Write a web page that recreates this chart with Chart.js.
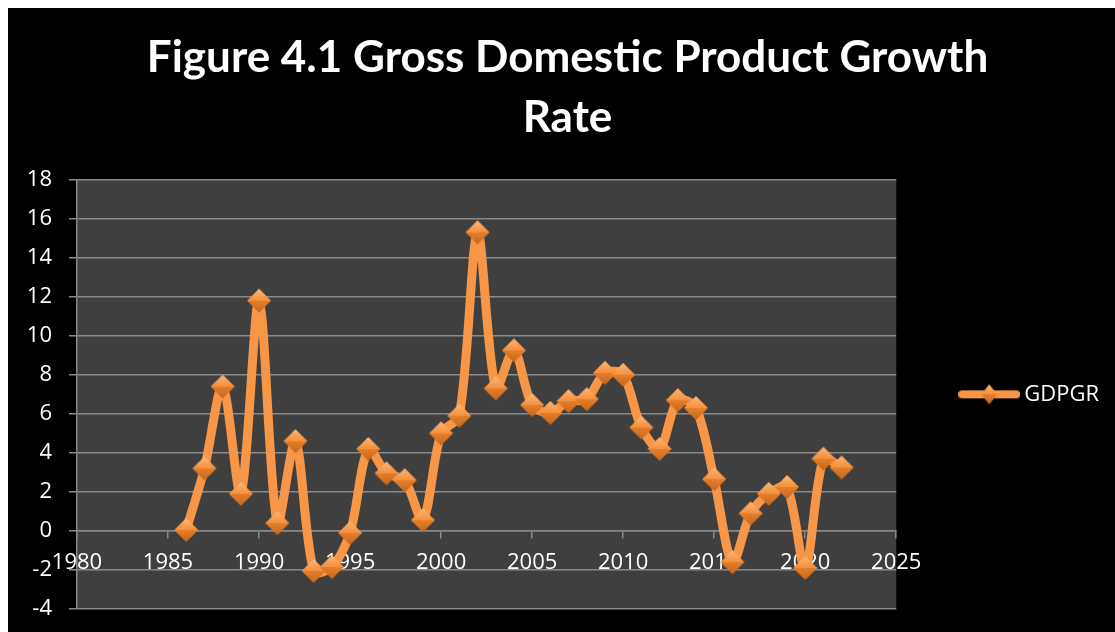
<!DOCTYPE html>
<html>
<head>
<meta charset="utf-8">
<script src="https://cdn.jsdelivr.net/npm/chart.js@4.4.1/dist/chart.umd.min.js"></script>
<style>
  html, body { margin: 0; padding: 0; background: #fff; }
  #wrap { position: absolute; left: 8px; top: 8px; width: 1107px; height: 624px; background: #000; }
</style>
</head>
<body>
<div id="wrap"><canvas id="chart"></canvas></div>
<script>
// GDP growth rate
const years = [1986, 1987, 1988, 1989, 1990, 1991, 1992, 1993, 1994, 1995,
  1996, 1997, 1998, 1999, 2000, 2001, 2002, 2003, 2004, 2005,
  2006, 2007, 2008, 2009, 2010, 2011, 2012, 2013, 2014, 2015,
  2016, 2017, 2018, 2019, 2020, 2021, 2022];
const gdpgr = [0.05, 3.2, 7.4, 1.9, 11.8, 0.4, 4.6, -2.05, -1.85, -0.1,
  4.2, 2.95, 2.6, 0.55, 5.0, 5.9, 15.3, 7.3, 9.25, 6.45,
  6.05, 6.65, 6.75, 8.1, 8.0, 5.3, 4.2, 6.7, 6.3, 2.65,
  -1.6, 0.9, 1.9, 2.25, -1.9, 3.7, 3.25];
const titleLines = ["Figure 4.1 Gross Domestic Product Growth", "Rate"];
const seriesName = "GDPGR";
const xRange = [1980, 2025];
const yRange = [-4, 18];

const ORANGE = "#F79646";
const TITLE_FONT = "Lato, 'Open Sans', sans-serif";
const FONT = "'Open Sans', Lato, sans-serif";

// diamond marker with a bit of bevel shading
function drawDiamond(ctx, cx, cy, rx, ry) {
  const g = ctx.createLinearGradient(0, cy - ry, 0, cy + ry);
  g.addColorStop(0, "#FDB877");
  g.addColorStop(0.48, "#F5913F");
  g.addColorStop(0.52, "#E57E2A");
  g.addColorStop(1, "#C4661C");
  ctx.beginPath();
  ctx.moveTo(cx - rx, cy);
  ctx.lineTo(cx, cy - ry);
  ctx.lineTo(cx + rx, cy);
  ctx.lineTo(cx, cy + ry);
  ctx.closePath();
  ctx.fillStyle = g;
  ctx.fill();
}

const marker = document.createElement("canvas");
marker.width = 26; marker.height = 26;
drawDiamond(marker.getContext("2d"), 13, 13, 12, 12);

const legendIcon = document.createElement("canvas");
legendIcon.width = 62; legendIcon.height = 24;
(() => {
  const c = legendIcon.getContext("2d");
  c.strokeStyle = ORANGE;
  c.lineWidth = 8;
  c.lineCap = "round";
  c.beginPath();
  c.moveTo(4, 12); c.lineTo(58, 12);
  c.stroke();
  drawDiamond(c, 31, 12, 8, 10);
})();

const plotBg = {
  id: "plotBg",
  beforeDraw(chart) {
    const { ctx, chartArea: a } = chart;
    ctx.save();
    ctx.fillStyle = "#3f3f3f";
    ctx.fillRect(a.left, a.top, a.right - a.left, a.bottom - a.top);
    ctx.restore();
  }
};

new Chart(document.getElementById("chart"), {
  type: "scatter",
  data: {
    datasets: [{
      label: seriesName,
      data: years.map((y, i) => ({ x: y, y: gdpgr[i] })),
      showLine: true,
      borderColor: ORANGE,
      borderWidth: 9,
      tension: 0.3,
      pointStyle: marker,
      pointRadius: 12,
      pointHoverRadius: 12,
      backgroundColor: ORANGE
    }]
  },
  options: {
    responsive: true,
    maintainAspectRatio: false,
    animation: false,
    layout: { padding: { left: 18, right: 6, top: 0, bottom: 23 } },
    plugins: {
      title: {
        display: true,
        text: titleLines,
        color: "#fff",
        font: { family: TITLE_FONT, size: 44, weight: "bold", lineHeight: 1.36 },
        padding: { top: 20, bottom: 32 }
      },
      legend: {
        position: "right",
        fullSize: false,
        labels: {
          color: "#fff",
          font: { family: FONT, size: 22 },
          usePointStyle: true,
          pointStyleWidth: 48,
          padding: 69,
          generateLabels: () => [{
            text: seriesName,
            pointStyle: legendIcon,
            fontColor: "#fff",
            datasetIndex: 0,
            lineWidth: 0,
            hidden: false
          }]
        }
      },
      tooltip: { enabled: false }
    },
    scales: {
      x: {
        type: "linear",
        min: xRange[0],
        max: xRange[1],
        position: { y: 0 },
        ticks: { stepSize: 5, color: "#fff", padding: 12, font: { family: FONT, size: 22 }, callback: (v) => String(v) },
        grid: { drawOnChartArea: false, drawTicks: true, tickLength: 7, color: "#8a8a8a", lineWidth: 1.5 },
        border: { display: true, color: "#8a8a8a", width: 1.5 }
      },
      y: {
        min: yRange[0],
        max: yRange[1],
        afterFit: (s) => { s.width = 51; s.paddingTop = 0; s.paddingBottom = 0; },
        ticks: { stepSize: 2, color: "#fff", padding: 17, font: { family: FONT, size: 22 } },
        grid: { color: "#8a8a8a", lineWidth: 1.5, tickLength: 8 },
        border: { display: true, color: "#8a8a8a", width: 1.5 }
      }
    }
  },
  plugins: [plotBg]
});
</script>
</body>
</html>
